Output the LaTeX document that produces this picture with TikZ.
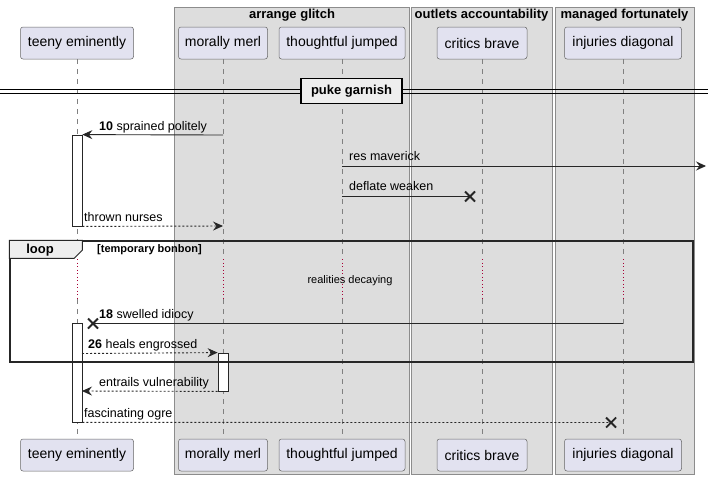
\documentclass[tikz,border=0pt]{standalone}
\usepackage{fontspec}
\setmainfont{Liberation Sans}
\usetikzlibrary{arrows.meta}
\definecolor{partfill}{HTML}{E2E2F0}
\definecolor{boxfill}{HTML}{DDDDDD}
\definecolor{tabfill}{HTML}{EEEEEE}
\definecolor{delayred}{HTML}{A80036}
\begin{document}
\begin{tikzpicture}[x=1pt,y=-1pt,
 part/.style={draw=black!60, line width=0.5pt, fill=partfill, rounded corners=2.5pt, minimum height=32pt, inner sep=0pt, font=\fontsize{14}{16}\selectfont},
 grp/.style={draw=black!45, line width=0.6pt, fill=boxfill, inner sep=0pt, minimum height=467pt},
 grptitle/.style={font=\bfseries\fontsize{13}{15}\selectfont, inner sep=0pt},
 life/.style={draw=black!50, line width=0.5pt, dash pattern=on 5pt off 5pt},
 delay/.style={draw=delayred, line width=0.7pt, dash pattern=on 1pt off 2.5pt},
 msg/.style={draw=black!85, line width=0.9pt},
 ret/.style={msg, dash pattern=on 2pt off 2pt},
 tip/.style={-{Stealth[length=10pt,width=9pt,inset=3.5pt]}},
 act/.style={draw=black!85, line width=0.8pt, fill=white, minimum width=10pt, inner sep=0pt},
 lbl/.style={font=\fontsize{12.5}{14}\selectfont, inner sep=0pt, anchor=base west},
 xmark/.style={draw=black!85, line width=1.8pt}
]
\fill[white] (0,0) rectangle (708,480);
\useasboundingbox (0,0) rectangle (708,480);

% group boxes
\node[grp, minimum width=235pt] (gA) at (291.5,240.5) {};
\node[grp, minimum width=141pt] (gB) at (481.5,240.5) {};
\node[grp, minimum width=139pt] (gC) at (624.5,240.5) {};
\node[grptitle] (gAt) at (292,15) {arrange glitch};
\node[grptitle] (gBt) at (481.5,15) {outlets accountability};
\node[grptitle] (gCt) at (624.5,15) {managed fortunately};

% participants
\node[part, minimum width=113pt] (tA) at (77,43) {teeny eminently};
\node[part, minimum width=89pt] (tB) at (223,43) {morally merl};
\node[part, minimum width=126pt] (tC) at (342,43) {thoughtful jumped};
\node[part, minimum width=90pt] (tD) at (482,43) {critics brave};
\node[part, minimum width=117pt] (tE) at (623,43) {injuries diagonal};
\node[part, minimum width=113pt] (bA) at (77,455) {teeny eminently};
\node[part, minimum width=89pt] (bB) at (223,455) {morally merl};
\node[part, minimum width=126pt] (bC) at (342,455) {thoughtful jumped};
\node[part, minimum width=90pt] (bD) at (482,455) {critics brave};
\node[part, minimum width=117pt] (bE) at (623,455) {injuries diagonal};

% lifelines
\foreach \n/\x in {A/77,B/223,C/342,D/482,E/623}{
  \coordinate (l\n1) at (\x,259);
  \coordinate (l\n2) at (\x,299);
  \draw[life] (t\n.south) -- (l\n1);
  \draw[delay] (l\n1) -- (l\n2);
  \draw[life] (l\n2) -- (b\n.north);
}

% divider
\coordinate (dl1a) at (0,89.5); \coordinate (dl1b) at (708,89.5);
\coordinate (dl2a) at (0,93); \coordinate (dl2b) at (708,93);
\draw[line width=0.8pt] (dl1a) -- (dl1b);
\draw[line width=0.8pt] (dl2a) -- (dl2b);
\node[draw, line width=1.8pt, fill=tabfill, minimum width=101pt, minimum height=25pt, inner sep=0pt, font=\bfseries\fontsize{13}{15}\selectfont] (div) at (351.5,91) {puke garnish};

% activation bars
\node[act, minimum height=91pt] (actA1) at (77,180.5) {};
\node[act, minimum height=99pt] (actA2) at (77,372.5) {};
\node[act, minimum height=38pt] (actB1) at (223,372) {};

% messages
\coordinate (m1s) at (223,135);
\draw[msg,tip] (m1s) -- (actA1.north east);
\node[lbl] (m1l) at (99,130) {\textbf{10} sprained politely};

\coordinate (m2s) at (342,166); \coordinate (m2e) at (706,166);
\draw[msg,tip] (m2s) -- (m2e);
\node[lbl] (m2l) at (349,160.5) {res maverick};

\coordinate (m3s) at (342,196.5); \coordinate (m3x) at (470,196.5);
\draw[msg] (m3s) -- (m3x);
\draw[xmark] (m3x) +(-5,-5) -- +(5,5) (m3x) +(-5,5) -- +(5,-5);
\node[lbl] (m3l) at (349,190.5) {deflate weaken};

\coordinate (m4e) at (223,226);
\draw[ret,tip] (actA1.south east) -- (m4e);
\node[lbl] (m4l) at (84,221.5) {thrown nurses};

% loop
\node[draw=black!85, line width=1.5pt, minimum width=683pt, minimum height=121pt, inner sep=0pt] (loop) at (351.5,301.5) {};
\draw[draw=black!85, line width=1pt, fill=tabfill] (loop.north west) -- ++(73,0) -- ++(0,10) -- ++(-8,8) -- ++(-65,0) -- cycle;
\node[font=\bfseries\fontsize{13}{15}\selectfont, inner sep=0pt] (loopt) at (40,250) {loop};
\node[font=\bfseries\fontsize{11}{13}\selectfont, inner sep=0pt, anchor=west] (loopc) at (97,250) {[temporary bonbon]};
\node[font=\fontsize{11}{13}\selectfont, inner sep=0pt] (dly) at (350,281) {realities decaying};

\coordinate (m7s) at (623,323.5); \coordinate (m7x) at (93,323.5);
\draw[msg] (m7s) -- (m7x);
\draw[xmark] (m7x) +(-5,-5) -- +(5,5) (m7x) +(-5,5) -- +(5,-5);
\node[lbl] (m7l) at (99,318.5) {\textbf{18} swelled idiocy};

\coordinate (m8s) at (82,353.5);
\draw[ret,tip] (m8s) -- (actB1.north west);
\node[lbl] (m8l) at (88,348) {\textbf{26} heals engrossed};

\coordinate (m9e) at (82,391);
\draw[ret,tip] (actB1.south west) -- (m9e);
\node[lbl] (m9l) at (99,386.5) {entrails vulnerability};

\coordinate (m10x) at (611,422.5);
\draw[ret] (actA2.south east) -- (m10x);
\draw[xmark] (m10x) +(-5,-5) -- +(5,5) (m10x) +(-5,5) -- +(5,-5);
\node[lbl] (m10l) at (84,417.5) {fascinating ogre};
\end{tikzpicture}
\end{document}
